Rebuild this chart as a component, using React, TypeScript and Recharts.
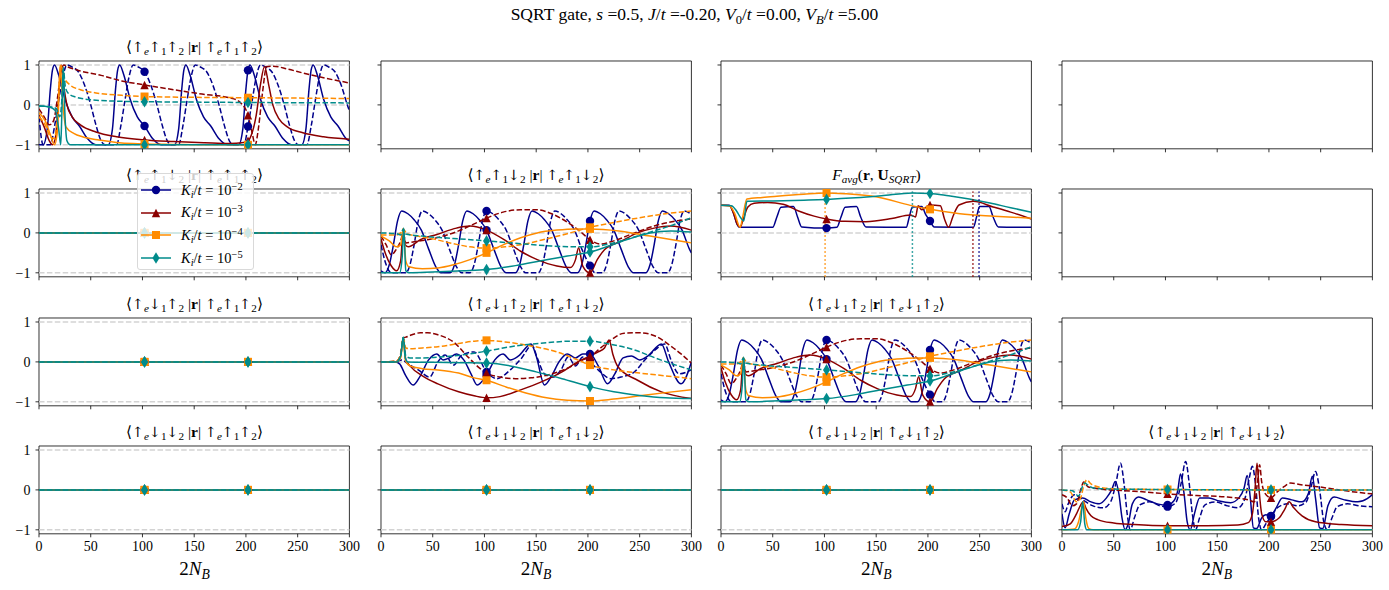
import React from 'react';
import { ComposedChart, Line, XAxis, YAxis, ReferenceLine, ReferenceArea } from 'recharts';

type Pt = [number, number];

const SERIF = '"Liberation Serif", "DejaVu Serif", serif';
const BLUE = '#00008b';
const RED = '#8b0000';
const ORANGE = '#ff8c00';
const TEAL = '#008b8b';
const COLORS = [BLUE, RED, ORANGE, TEAL];
const MARKERS = ['o', '^', 's', 'd'];
const K_EXPONENTS = ['−2', '−3', '−4', '−5'];

const X_TICKS = [0, 50, 100, 150, 200, 250, 300];
const Y_TICKS = [-1, 0, 1];
const MARK_X = [102, 202];

// <up e up 1 up 2| r |up e up 1 up 2>
const A_BLUE_RE: Pt[] = [[0,-1],[4,-1],[8,-0.6],[11,0.4],[13,0.87],[15,1],[19,0.75],[25,0.15],[32,-0.3],[39,-0.53],[47,-0.85],[55,-1],[67,-1],[71,-0.6],[74,0.4],[76,0.87],[78,1],[82,0.75],[88,0.15],[95,-0.3],[102,-0.53],[110,-0.85],[118,-1],[131,-1],[135,-0.6],[138,0.4],[140,0.87],[142,1],[146,0.75],[152,0.15],[159,-0.3],[166,-0.53],[174,-0.85],[182,-1],[193,-1],[197,-0.6],[200,0.4],[202,0.87],[204,1],[208,0.75],[214,0.15],[221,-0.3],[228,-0.53],[236,-0.85],[244,-1],[254,-1],[258,-0.6],[261,0.4],[263,0.87],[265,1],[269,0.75],[275,0.15],[282,-0.3],[289,-0.53],[297,-0.85],[300,-0.9]];
const A_BLUE_IM: Pt[] = [[0,-0.3],[4,-1],[11,-1],[15,-0.54],[19,0.1],[23,0.7],[27,1],[32,0.95],[38,0.83],[44,0.5],[50,0],[55,-0.5],[60,-0.9],[64,-1],[75,-1],[79,-0.54],[83,0.1],[87,0.7],[91,1],[96,0.95],[102,0.83],[108,0.5],[114,0],[119,-0.5],[124,-0.9],[128,-1],[135,-1],[139,-0.54],[143,0.1],[147,0.7],[151,1],[156,0.95],[162,0.83],[168,0.5],[174,0],[179,-0.5],[184,-0.9],[188,-1],[198,-1],[202,-0.54],[206,0.1],[210,0.7],[214,1],[219,0.95],[225,0.83],[231,0.5],[237,0],[242,-0.5],[247,-0.9],[251,-1],[259,-1],[263,-0.54],[267,0.1],[271,0.7],[275,1],[280,0.95],[286,0.83],[292,0.5],[298,0],[300,-0.15]];
const A_RED_RE: Pt[] = [[0,-0.26],[5,-0.55],[10,-0.9],[13,-1],[16,-0.8],[19,0.2],[21.5,1],[24,0.45],[27,0],[32,-0.3],[40,-0.5],[55,-0.68],[75,-0.8],[102,-0.88],[130,-0.92],[160,-0.95],[185,-0.97],[196,-0.95],[202,-0.9],[206,-0.7],[210,-0.25],[214,0.5],[218,0.96],[222,0.5],[226,0],[232,-0.35],[240,-0.55],[255,-0.7],[275,-0.8],[300,-0.86]];
const A_RED_IM: Pt[] = [[0,-0.1],[5,-0.3],[10,-0.5],[14,-0.4],[18,0.2],[21,0.8],[24,1],[28,0.95],[40,0.85],[60,0.74],[80,0.6],[102,0.5],[130,0.38],[155,0.28],[187,0.16],[195,0.05],[202,-0.26],[206,-0.7],[209,-1],[212,-0.6],[216,0.3],[220,0.96],[226,0.97],[240,0.9],[255,0.8],[275,0.68],[300,0.55]];
const A_ORG_RE: Pt[] = [[0,-0.2],[6,-0.4],[11,-0.75],[15,-1],[18,-0.6],[20.5,1],[22.5,0.2],[26,-0.55],[34,-0.72],[42,-0.8],[58,-0.88],[75,-0.94],[91,-0.97],[102,-0.98],[130,-0.99],[160,-1],[202,-1],[300,-1]];
const A_ORG_IM: Pt[] = [[0,-0.3],[6,-0.5],[11,-0.8],[15,-0.85],[18,-0.2],[21,1],[24,0.7],[30,0.5],[40,0.38],[55,0.3],[80,0.24],[102,0.21],[150,0.19],[202,0.18],[300,0.16]];
const A_TEAL_RE: Pt[] = [[0,-0.03],[10,-0.05],[16,-0.15],[19,-0.6],[21,-1],[22,-0.3],[23.5,0.95],[25,-0.2],[27,-0.9],[30,-1],[102,-1],[202,-1],[300,-1]];
const A_TEAL_IM: Pt[] = [[0,-0.03],[12,-0.05],[17,-0.1],[20,-0.3],[22,0.1],[23.5,0.9],[25.5,0.45],[28,0.3],[35,0.2],[50,0.13],[80,0.09],[102,0.08],[150,0.07],[202,0.06],[300,0.05]];

// <up e up 1 down 2| r |up e up 1 down 2> (same shape as <up e down 1 up 2| r |up e down 1 up 2>)
const C_BLUE_RE: Pt[] = [[0,-0.95],[4,-1],[8,-0.8],[12,-0.3],[16,0.3],[20,0.55],[26,0.48],[32,0.33],[39,0.07],[46,-0.4],[53,-0.85],[58,-1],[67,-1],[71,-0.8],[75,-0.3],[79,0.3],[83,0.55],[89,0.48],[95,0.33],[102,0.07],[109,-0.4],[116,-0.85],[121,-1],[130,-1],[134,-0.8],[138,-0.3],[142,0.3],[146,0.55],[152,0.48],[158,0.33],[165,0.07],[172,-0.4],[179,-0.85],[184,-1],[190,-1],[194,-0.8],[198,-0.3],[202,0.3],[206,0.55],[212,0.48],[218,0.33],[225,0.07],[232,-0.4],[239,-0.85],[244,-1],[256,-1],[260,-0.8],[264,-0.3],[268,0.3],[272,0.55],[278,0.48],[284,0.33],[291,0.07],[298,-0.4],[300,-0.5]];
const C_BLUE_IM: Pt[] = [[0,-0.3],[5,-0.8],[10,-1],[24,-1],[28,-0.8],[32,-0.3],[36,0.3],[40,0.55],[46,0.48],[52,0.33],[59,0.07],[66,-0.4],[73,-0.85],[78,-1],[86,-1],[90,-0.8],[94,-0.3],[98,0.3],[102,0.55],[108,0.48],[114,0.33],[121,0.07],[128,-0.4],[135,-0.85],[140,-1],[152,-1],[156,-0.8],[160,-0.3],[164,0.3],[168,0.55],[174,0.48],[180,0.33],[187,0.07],[194,-0.4],[202,-0.82],[207,-1],[214,-1],[218,-0.8],[222,-0.3],[226,0.3],[230,0.55],[236,0.48],[242,0.33],[249,0.07],[256,-0.4],[263,-0.85],[268,-1],[277,-1],[281,-0.8],[285,-0.3],[289,0.3],[293,0.55],[299,0.48],[300,0.46]];
const C_RED_RE: Pt[] = [[0,-0.15],[4,-0.5],[10,-0.83],[15,-0.95],[19,-0.7],[21.5,0.1],[23.5,-0.3],[26.5,-0.35],[38,-0.17],[54,-0.04],[73,0.12],[86,0.17],[102,0.07],[119,-0.17],[135,-0.46],[151,-0.67],[170,-0.83],[183,-0.87],[188,-0.67],[191,-0.37],[195,-0.83],[202,-1],[209,-0.67],[216,-0.42],[232,-0.21],[248,0],[264,0.12],[280,0.17],[300,0.07]];
const C_RED_IM: Pt[] = [[0,-0.08],[5,-0.3],[10,-0.55],[15,-0.4],[19,-0.2],[21.5,0],[24,-0.25],[32,-0.22],[45,-0.17],[60,-0.08],[75,0.05],[88,0.2],[102,0.37],[118,0.52],[135,0.58],[150,0.58],[165,0.48],[180,0.27],[192,0.05],[202,-0.17],[212,-0.28],[225,-0.2],[245,0],[265,0.18],[285,0.3],[300,0.35]];
const C_ORG_RE: Pt[] = [[0,-0.08],[8,-0.2],[15,-0.35],[19,-0.3],[21.5,0.1],[24,-0.7],[27,-0.85],[40,-0.9],[55,-0.88],[70,-0.8],[86,-0.67],[102,-0.5],[118,-0.3],[135,-0.12],[151,0],[170,0.07],[188,0.1],[202,0.1],[230,0.05],[260,-0.08],[300,-0.25]];
const C_ORG_IM: Pt[] = [[0,-0.05],[15,-0.05],[19,0],[21.5,0.1],[25,-0.02],[35,-0.08],[50,-0.15],[70,-0.27],[86,-0.35],[102,-0.38],[120,-0.35],[140,-0.27],[160,-0.15],[180,-0.02],[202,0.14],[225,0.26],[250,0.38],[275,0.48],[300,0.55]];
const C_TEAL_RE: Pt[] = [[0,-1],[18,-1],[20.5,-0.6],[22,0.12],[24,-0.95],[27,-1],[50,-0.98],[80,-0.95],[102,-0.92],[130,-0.82],[160,-0.67],[180,-0.58],[202,-0.48],[220,-0.33],[240,-0.15],[260,0],[280,0.05],[300,0.02]];
const C_TEAL_IM: Pt[] = [[0,0],[15,-0.02],[19,-0.05],[21.5,0.1],[24,-0.03],[40,-0.08],[70,-0.14],[102,-0.2],[130,-0.26],[160,-0.32],[185,-0.35],[202,-0.35],[220,-0.28],[240,-0.14],[260,0.02],[280,0.18],[300,0.38]];

// F_avg(r, U_SQRT)
const D_BLUE: Pt[] = [[0,0.69],[8,0.69],[12,0.5],[15,0.25],[18,0.14],[50,0.14],[54,0.4],[58,0.64],[70,0.66],[74,0.4],[78,0.15],[102,0.12],[112,0.14],[116,0.4],[120,0.64],[131,0.66],[135,0.4],[140,0.15],[179,0.14],[182,0.4],[185,0.65],[194,0.66],[198,0.45],[202,0.3],[206,0.15],[244,0.14],[247,0.4],[250,0.66],[259,0.66],[263,0.4],[268,0.15],[300,0.14]];
const D_RED: Pt[] = [[0,0.69],[8,0.68],[12,0.5],[16,0.2],[18.5,0.14],[21,0.3],[26,0.65],[32,0.74],[45,0.76],[60,0.72],[75,0.55],[90,0.42],[102,0.35],[120,0.29],[140,0.28],[165,0.36],[183,0.45],[188,0.4],[190.5,0.68],[194,0.58],[202,0.7],[212,0.68],[216,0.35],[220,0.14],[224,0.4],[230,0.7],[244,0.79],[263,0.65],[280,0.52],[300,0.35]];
const D_ORG: Pt[] = [[0,0.69],[8,0.68],[13,0.5],[18.5,0.14],[21,0.4],[25,0.85],[40,0.89],[54,0.92],[80,0.97],[100.6,1],[102,1],[120,0.98],[151,0.9],[183,0.69],[202,0.59],[231,0.48],[264,0.42],[300,0.37]];
const D_TEAL: Pt[] = [[0,0.69],[10,0.68],[15,0.55],[19,0.38],[22,0.3],[25,0.79],[50,0.8],[80,0.82],[102,0.84],[130,0.88],[155,0.93],[185,1],[202,0.99],[220,0.93],[240,0.85],[260,0.75],[280,0.63],[300,0.52]];
const D_BEST_X = [249.4, 243.5, 100.6, 185];

// <up e down 1 up 2| r |up e up 1 down 2>
const F_BLUE_RE: Pt[] = [[0,0],[14,0],[18,-0.05],[24,-0.35],[31,-0.58],[38,-0.35],[46,0.05],[54,0.2],[60,0.05],[66,0.1],[73,0.2],[80,0.05],[87,-0.3],[93,-0.58],[102,-0.33],[110,0.05],[118,0.2],[125,0.05],[133,0.15],[145,0.45],[150,0.15],[158,-0.58],[165,-0.35],[172,0],[180,0.2],[188,0.1],[195,0.2],[202,0.2],[210,-0.1],[219,-0.55],[226,-0.3],[234,0.1],[242,0.15],[250,0.05],[258,0.15],[271,0.45],[278,0],[290,-0.55],[300,0]];
const F_BLUE_IM: Pt[] = [[0,0],[14,0],[20,0.05],[26,-0.05],[36,-0.2],[47,-0.38],[55,0],[62,0.17],[70,-0.08],[78,0.17],[90,0.25],[102,-0.25],[112,-0.42],[125,-0.2],[136,0.1],[146,0.42],[151,0.1],[158,-0.3],[166,-0.38],[174,-0.2],[181,0.12],[188,-0.1],[195,0.12],[202,0],[212,-0.25],[222,-0.42],[232,-0.38],[245,-0.25],[255,0.05],[265,0.3],[274,0.45],[281,0],[288,-0.3],[300,-0.2]];
const F_RED_RE: Pt[] = [[0,0],[15,0],[19,0.15],[21.5,0.6],[24,0.05],[28,-0.1],[40,-0.35],[55,-0.55],[75,-0.75],[90,-0.85],[102,-0.9],[115,-0.87],[135,-0.7],[155,-0.5],[175,-0.25],[190,0],[202,0.15],[210,0.25],[216,0.35],[220.5,0.55],[224,0.2],[229,-0.12],[248,-0.46],[271,-0.75],[300,-0.92]];
const F_RED_IM: Pt[] = [[0,0],[15,0.02],[19,0.2],[21.5,0.6],[24,0.62],[30,0.68],[38,0.73],[45,0.73],[55,0.68],[70,0.5],[85,0.1],[95,-0.15],[102,-0.28],[115,-0.38],[130,-0.42],[145,-0.4],[165,-0.3],[185,-0.1],[195,0.05],[202,0.12],[210,0.3],[220,0.5],[235,0.72],[250,0.73],[265,0.65],[280,0.4],[290,0.2],[300,-0.03]];
const F_ORG_RE: Pt[] = [[0,0],[15,0],[19,0.1],[21.5,0.6],[23.5,0.05],[28,-0.1],[40,-0.17],[55,-0.2],[75,-0.28],[90,-0.4],[102,-0.46],[120,-0.62],[140,-0.78],[160,-0.9],[180,-0.96],[202,-0.98],[225,-0.93],[250,-0.85],[275,-0.77],[300,-0.7]];
const F_ORG_IM: Pt[] = [[0,0],[15,0.02],[19,0.2],[21.5,0.6],[24,0.35],[28,0.33],[40,0.35],[55,0.38],[75,0.46],[90,0.52],[102,0.54],[120,0.5],[145,0.4],[170,0.25],[190,0.05],[202,-0.08],[225,-0.2],[250,-0.28],[275,-0.35],[300,-0.42]];
const F_TEAL_RE: Pt[] = [[0,0],[15,0],[19,0.15],[21.5,0.62],[23.5,0.1],[26,0],[50,-0.01],[80,-0.02],[102,-0.03],[125,-0.1],[150,-0.25],[175,-0.42],[202,-0.62],[225,-0.75],[250,-0.84],[275,-0.9],[300,-0.92]];
const F_TEAL_IM: Pt[] = [[0,0],[15,0],[19,0.15],[21.5,0.62],[24,0.15],[28,0.1],[40,0.1],[60,0.13],[80,0.18],[102,0.27],[130,0.4],[160,0.48],[185,0.52],[202,0.52],[220,0.45],[245,0.3],[265,0.1],[285,-0.08],[300,-0.2]];

// <up e down 1 down 2| r |up e down 1 down 2>
const I_BLUE_RE: Pt[] = [[0,-0.6],[3,-0.95],[7,-0.6],[12,-0.25],[20,-0.2],[28,-0.3],[36,-0.35],[43,-0.2],[48,0],[51.5,0.21],[55,-0.1],[58,-0.7],[61,-1],[64,-0.85],[68,-0.35],[74,-0.18],[82,-0.25],[92,-0.35],[102,-0.38],[108,-0.28],[112,0],[114.5,0.4],[118,-0.1],[121,-0.8],[124,-1],[128,-0.6],[133,-0.2],[142,-0.2],[152,-0.28],[163,-0.32],[171,-0.2],[176,0.05],[179,0.36],[182,-0.2],[185,-0.95],[188,-0.97],[193,-0.7],[197,-0.62],[202,-0.65],[207,-0.45],[213,-0.2],[222,-0.25],[232,-0.3],[238,-0.1],[242,0.34],[245,-0.2],[249,-0.95],[252,-0.97],[257,-0.4],[263,-0.18],[273,-0.25],[286,-0.3],[295,-0.22],[300,-0.12]];
const I_BLUE_IM: Pt[] = [[0,-0.35],[3,-0.55],[6,-0.35],[12,-0.12],[20,-0.25],[30,-0.4],[40,-0.45],[47,-0.3],[52,0.15],[56.5,0.67],[60,0.15],[63,-0.6],[66,-1],[70,-0.7],[75,-0.38],[85,-0.3],[95,-0.4],[102,-0.42],[110,-0.32],[115,0.15],[119.5,0.71],[123,0.15],[126,-0.6],[129,-1],[133,-0.7],[138,-0.38],[148,-0.3],[160,-0.4],[170,-0.45],[177,-0.2],[181,0.3],[184,0.59],[187,0.15],[190,-0.7],[193,-1],[197,-0.85],[202,-0.67],[208,-0.45],[218,-0.35],[228,-0.4],[236,-0.3],[241,0.1],[245,0.46],[249,0],[253,-0.8],[256.5,-1],[261,-0.7],[266,-0.42],[276,-0.35],[288,-0.4],[300,-0.42]];
const I_RED_RE: Pt[] = [[0,-0.92],[8,-0.85],[14,-0.6],[18,-0.38],[20.5,-0.3],[23,-0.45],[28,-0.65],[35,-0.75],[50,-0.83],[70,-0.87],[102,-0.9],[140,-0.9],[170,-0.88],[180,-0.82],[184,-0.6],[186.5,0],[188.5,0.67],[190.5,0],[193,-0.6],[197,-0.8],[202,-0.8],[210,-0.7],[215,-0.5],[219.5,-0.3],[224,-0.45],[232,-0.65],[245,-0.8],[270,-0.87],[300,-0.9]];
const I_RED_IM: Pt[] = [[0,-0.12],[5,-0.2],[10,-0.4],[14,-0.35],[18,0],[21,0.2],[25,0.08],[35,0.03],[60,-0.02],[80,-0.05],[102,-0.1],[130,-0.14],[160,-0.18],[180,-0.25],[186,-0.3],[189,0.2],[191,0.63],[193,0.2],[196,-0.08],[202,-0.2],[208,-0.05],[214.5,0.08],[221,0.17],[231,0.13],[247,0.08],[279,-0.04],[300,-0.1]];
const I_ORG_RE: Pt[] = [[0,-1],[12,-0.98],[16,-0.8],[19,-0.45],[21,-0.3],[23,-0.7],[26,-0.97],[30,-1],[102,-1],[202,-1],[300,-1]];
const I_ORG_IM: Pt[] = [[0,0],[8,-0.05],[14,-0.3],[18,-0.2],[21,0.1],[24,0.25],[28,0.15],[40,0.05],[60,0.02],[102,0.01],[202,0],[300,0]];
const I_TEAL_RE: Pt[] = [[0,-1],[15,-1],[18,-0.8],[20,-0.3],[22,-0.85],[24,-1],[102,-1],[202,-1],[300,-1]];
const I_TEAL_IM: Pt[] = [[0,0],[10,-0.02],[16,-0.15],[20,0.1],[22,0.17],[25,0.12],[30,0.05],[50,0.02],[102,0.01],[202,0],[300,0]];

const ZERO: Pt[] = [[0,0],[102,0],[202,0],[300,0]];

const COL_LEFT = [39.3, 380.8, 721.2, 1061.6];
const ROW_TOP = [60.7, 189.2, 317.7, 446.1];
const AX_W = 310.4;
const AX_H = 87.8;

type Curve = { pts: { x: number; y: number }[]; color: string; marker: string; dashed: boolean };

function buildCurves(groups: Pt[][][]): Curve[] {
  const out: Curve[] = [];
  groups.forEach((g, i) =>
    g.forEach((pts, j) =>
      out.push({ pts: pts.map(([x, y]) => ({ x, y })), color: COLORS[i], marker: MARKERS[i], dashed: j === 1 })
    )
  );
  return out;
}

const SET_A = buildCurves([[A_BLUE_RE, A_BLUE_IM], [A_RED_RE, A_RED_IM], [A_ORG_RE, A_ORG_IM], [A_TEAL_RE, A_TEAL_IM]]);
const SET_C = buildCurves([[C_BLUE_RE, C_BLUE_IM], [C_RED_RE, C_RED_IM], [C_ORG_RE, C_ORG_IM], [C_TEAL_RE, C_TEAL_IM]]);
const SET_D = buildCurves([[D_BLUE], [D_RED], [D_ORG], [D_TEAL]]);
const SET_F = buildCurves([[F_BLUE_RE, F_BLUE_IM], [F_RED_RE, F_RED_IM], [F_ORG_RE, F_ORG_IM], [F_TEAL_RE, F_TEAL_IM]]);
const SET_I = buildCurves([[I_BLUE_RE, I_BLUE_IM], [I_RED_RE, I_RED_IM], [I_ORG_RE, I_ORG_IM], [I_TEAL_RE, I_TEAL_IM]]);
const SET_ZERO = buildCurves([[ZERO, ZERO], [ZERO, ZERO], [ZERO, ZERO], [ZERO, ZERO]]);

const GRID: (Curve[] | null)[][] = [
  [SET_A, null, null, null],
  [SET_ZERO, SET_C, SET_D, null],
  [SET_ZERO, SET_F, SET_C, null],
  [SET_ZERO, SET_ZERO, SET_ZERO, SET_I],
];

const TITLES = [
  ['uuu|uuu', '', '', ''],
  ['uud|uuu', 'uud|uud', 'FAVG', ''],
  ['udu|uuu', 'udu|uud', 'udu|udu', ''],
  ['udd|uuu', 'udd|uud', 'udd|udu', 'udd|udd'],
];

const SUB: React.CSSProperties = { fontSize: '0.72em', verticalAlign: '-0.28em', lineHeight: 0 };
const SUP: React.CSSProperties = { fontSize: '0.72em', verticalAlign: '0.45em', lineHeight: 0 };
const ARR: React.CSSProperties = { fontFamily: '"DejaVu Serif", serif', fontSize: '0.92em' };
const ARROW: Record<string, string> = { u: '↑', d: '↓' };

function Spins({ s }: { s: string }) {
  return (
    <>
      <span style={ARR}>{ARROW[s[0]]}</span><span style={SUB}><i>e</i></span>
      <span style={ARR}>{ARROW[s[1]]}</span><span style={SUB}>1</span>
      <span style={ARR}>{ARROW[s[2]]}</span><span style={SUB}>2</span>
    </>
  );
}

function Title({ spec }: { spec: string }) {
  if (spec === 'FAVG') {
    return (
      <span>
        <i>F</i><span style={SUB}><i>avg</i></span>(<b>r</b>, <b>U</b><span style={SUB}><i>SQRT</i></span>)
      </span>
    );
  }
  const [bra, ket] = spec.split('|');
  return (
    <span>
      ⟨<Spins s={bra} /> |<b>r</b>| <Spins s={ket} />⟩
    </span>
  );
}

function Marker({ kind, cx, cy, color }: { kind: string; cx: number; cy: number; color: string }) {
  if (kind === 'o') return <circle cx={cx} cy={cy} r={4.2} fill={color} />;
  if (kind === '^')
    return <polygon points={`${cx},${cy - 4.2} ${cx - 4.2},${cy + 4.2} ${cx + 4.2},${cy + 4.2}`} fill={color} />;
  if (kind === 's') return <rect x={cx - 4} y={cy - 4} width={8} height={8} fill={color} />;
  return <polygon points={`${cx},${cy - 5.8} ${cx + 3.5},${cy} ${cx},${cy + 5.8} ${cx - 3.5},${cy}`} fill={color} />;
}

function dotFor(marker: string, color: string) {
  return (p: any) => {
    const key = `m${p.index}`;
    if (!p.payload || !MARK_X.includes(p.payload.x) || p.cx == null || p.cy == null) return <g key={key} />;
    return <Marker key={key} kind={marker} cx={p.cx} cy={p.cy} color={color} />;
  };
}

const tickStyle = { fill: '#000', fontSize: 14, fontFamily: SERIF };
const minus = (v: number) => (v < 0 ? `−${Math.abs(v)}` : `${v}`);

function Panel({ row, col }: { row: number; col: number }) {
  const curves = GRID[row][col];
  const left = COL_LEFT[col];
  const top = ROW_TOP[row];
  const showX = row === 3;
  const showY = col === 0;
  const title = TITLES[row][col];
  return (
    <>
      {title && (
        <div
          style={{ position: 'absolute', left: left - 20, top: top - 24, width: AX_W + 40, textAlign: 'center', fontSize: 15.5, lineHeight: '20px', whiteSpace: 'nowrap' }}
        >
          <Title spec={title} />
        </div>
      )}
      <div style={{ position: 'absolute', left: left - 40, top: top - 5 }}>
        <ComposedChart width={AX_W + 60} height={AX_H + 35} margin={{ top: 5, right: 20, bottom: 0, left: 0 }}>
          <XAxis
            type="number"
            dataKey="x"
            domain={[0, 300]}
            ticks={X_TICKS}
            interval={0}
            allowDataOverflow
            height={30}
            axisLine={false}
            tickSize={3.5}
            tickMargin={4}
            tickLine={{ stroke: '#000', strokeWidth: 0.8 }}
            tick={tickStyle}
            tickFormatter={showX ? (v: number) => `${v}` : () => ''}
          />
          <YAxis
            type="number"
            domain={[-1.1, 1.1]}
            ticks={Y_TICKS}
            interval={0}
            allowDataOverflow
            width={40}
            axisLine={false}
            tickSize={3.5}
            tickMargin={5}
            tickLine={{ stroke: '#000', strokeWidth: 0.8 }}
            tick={tickStyle}
            tickFormatter={showY ? minus : () => ''}
          />
          {curves &&
            Y_TICKS.map((y) => (
              <ReferenceLine key={`g${y}`} y={y} stroke="#d3d3d3" strokeWidth={1.5} strokeDasharray="5.5 2.4" />
            ))}
          {curves &&
            curves.map((c, i) => (
              <Line
                key={`c${i}`}
                data={c.pts}
                dataKey="y"
                type="monotone"
                stroke={c.color}
                strokeWidth={1.5}
                strokeDasharray={c.dashed ? '5.5 2.4' : undefined}
                dot={dotFor(c.marker, c.color)}
                activeDot={false}
                isAnimationActive={false}
              />
            ))}
          {curves === SET_D &&
            D_BEST_X.map((x, i) => (
              <ReferenceLine
                key={`v${i}`}
                segment={[{ x, y: -1.1 }, { x, y: 1.04 }]}
                stroke={COLORS[i]}
                strokeWidth={1.5}
                strokeDasharray="1.5 2.5"
              />
            ))}
          <ReferenceArea x1={0} x2={300} y1={-1.1} y2={1.1} fill="none" fillOpacity={0} stroke="#000" strokeWidth={0.8} />
        </ComposedChart>
      </div>
    </>
  );
}

function LegendBox() {
  return (
    <div
      style={{
        position: 'absolute', left: 137, top: 173, width: 117, height: 97, boxSizing: 'border-box',
        background: 'rgba(255,255,255,0.8)', border: '1px solid #d9d9d9', borderRadius: 3, zIndex: 5,
      }}
    >
      {K_EXPONENTS.map((e, i) => (
        <div key={e} style={{ position: 'absolute', left: 0, top: 6 + i * 22.7, height: 20, display: 'flex', alignItems: 'center', whiteSpace: 'nowrap' }}>
          <svg width={40} height={20}>
            <line x1={3} x2={33} y1={10} y2={10} stroke={COLORS[i]} strokeWidth={1.5} />
            <Marker kind={MARKERS[i]} cx={18} cy={10} color={COLORS[i]} />
          </svg>
          <span style={{ fontSize: 14.5, marginLeft: 3 }}>
            <i>K</i><span style={SUB}><i>i</i></span>/<i>t</i> = 10<span style={SUP}>{e}</span>
          </span>
        </div>
      ))}
    </div>
  );
}

export default function App() {
  return (
    <div style={{ position: 'absolute', left: 0, top: 0, width: 1389, height: 590, background: '#fff', fontFamily: SERIF, color: '#000', overflow: 'hidden' }}>
      <div style={{ position: 'absolute', left: 0, top: 3, width: 1389, textAlign: 'center', fontSize: 17.5, lineHeight: '22px' }}>
        SQRT gate, <i>s</i> =0.5, <i>J</i>/<i>t</i> =-0.20, <i>V</i><span style={SUB}>0</span>/<i>t</i> =0.00, <i>V</i><span style={SUB}><i>B</i></span>/<i>t</i> =5.00
      </div>
      {ROW_TOP.map((_, r) => COL_LEFT.map((__, c) => <Panel key={`${r}-${c}`} row={r} col={c} />))}
      {COL_LEFT.map((left, c) => (
        <div key={`xl${c}`} style={{ position: 'absolute', left, top: 558, width: AX_W, textAlign: 'center', fontSize: 19, lineHeight: '22px' }}>
          2<i>N</i><span style={SUB}><i>B</i></span>
        </div>
      ))}
      <LegendBox />
    </div>
  );
}
